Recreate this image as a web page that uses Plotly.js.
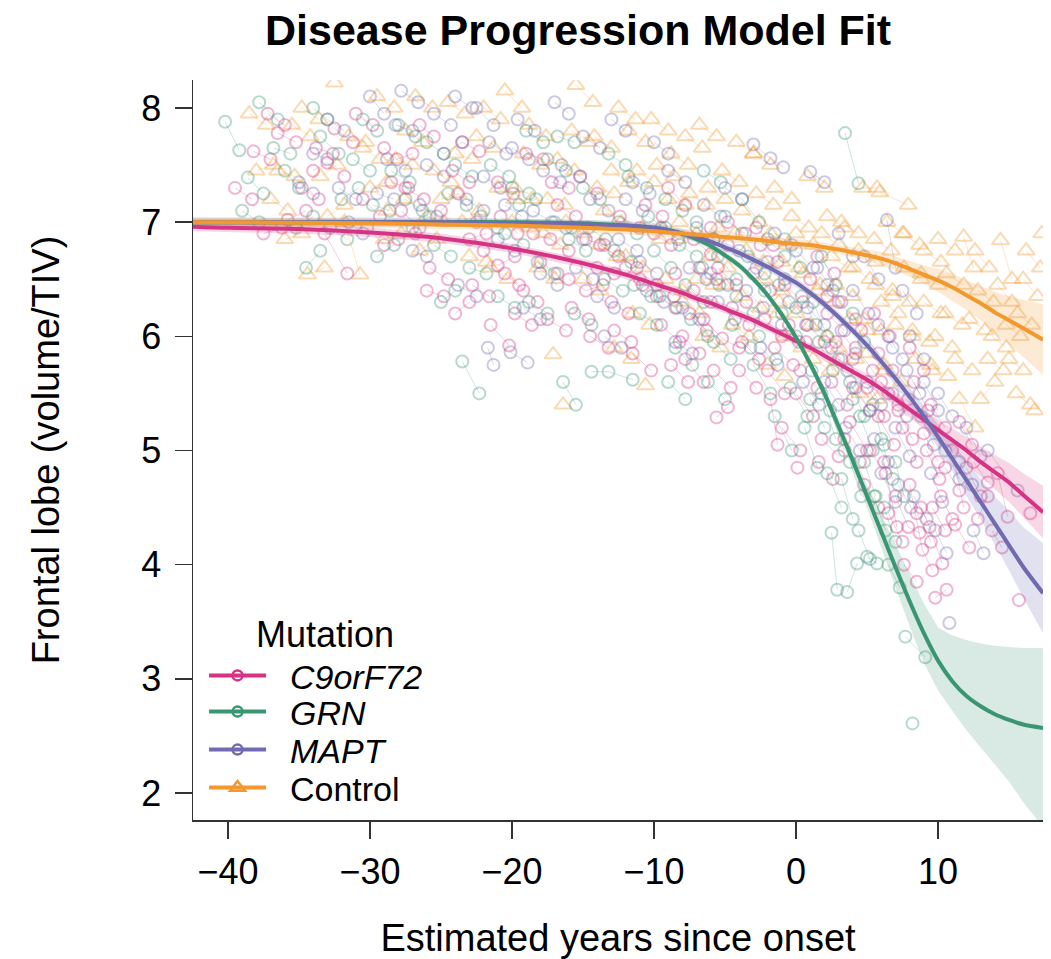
<!DOCTYPE html>
<html>
<head>
<meta charset="utf-8">
<script src="https://cdn.plot.ly/plotly-3.0.1.min.js"></script>
<style>html,body{margin:0;padding:0;background:#fff;}#chart{width:1051px;height:959px;}</style>
</head>
<body>
<div id="chart"></div>
<script>
// ---------- DATA ----------
const groupNames = ["C9orF72", "GRN", "MAPT", "Control"];

// Observed subjects: each subject is a list of [years since onset, frontal lobe volume/TIV] visits
const c9Subjects = [
 [[-38.2,7.62],[-37.0,7.55]],[[-36.5,7.78],[-35.2,7.7]],[[-35.8,7.02],[-34.5,7.1]],[[-34.0,7.45],[-33.0,7.52],[-31.8,7.4]],
 [[-33.2,6.9],[-31.6,6.55]],[[-32.5,7.82],[-31.2,7.7]],[[-30.5,7.2],[-29.3,7.05]],[[-29.0,7.65],[-28.1,7.55],[-27.0,7.6]],
 [[-28.0,6.85],[-26.8,6.9]],[[-27.5,7.3],[-26.2,7.2]],[[-25.8,6.6],[-24.5,6.5]],[[-25.0,7.1],[-23.8,7.25],[-22.5,7.0]],
 [[-24.0,6.2],[-23.0,6.3]],[[-23.5,7.7],[-22.3,7.62]],[[-22.0,6.75],[-21.0,6.62],[-19.8,6.7]],[[-21.5,6.1],[-20.2,5.92]],
 [[-21.0,7.35],[-19.9,7.25]],[[-19.5,6.45],[-18.2,6.3]],[[-19.0,7.6],[-17.8,7.55]],[[-18.5,6.9],[-17.3,6.85],[-16.0,6.75]],
 [[-17.5,6.15],[-16.2,6.05]],[[-16.8,7.15],[-15.5,7.05]],[[-16.0,6.5],[-14.8,6.4],[-13.6,6.45]],[[-15.2,7.4],[-14.0,7.25]],
 [[-14.5,6.0],[-13.2,5.9]],[[-13.8,6.8],[-12.5,6.7],[-11.2,6.6]],[[-13.0,6.3],[-11.8,6.2]],[[-12.4,7.05],[-11.0,6.95]],
 [[-11.5,5.85],[-10.2,5.7]],[[-11.0,6.5],[-9.8,6.35],[-8.5,6.25]],[[-10.0,6.9],[-8.8,6.8]],[[-9.5,6.1],[-8.2,5.95]],
 [[-9.0,7.3],[-7.8,7.15]],[[-8.5,6.55],[-7.2,6.4],[-6.0,6.3]],[[-7.8,5.8],[-6.5,5.6]],[[-7.2,6.85],[-6.0,6.72]],
 [[-6.5,6.15],[-5.2,5.98],[-4.0,5.9]],[[-5.6,5.29],[-4.8,5.38]],[[-5.5,6.6],[-4.2,6.45]],[[-4.8,7.0],[-3.6,6.9]],
 [[-4.0,5.7],[-2.8,5.55]],[[-3.5,6.3],[-2.2,6.15],[-1.0,6.0]],[[-2.5,6.8],[-1.3,6.65]],[[-1.8,5.45],[-1.3,5.05]],
 [[-1.5,5.9],[-0.2,5.75]],[[-0.8,6.45],[0.5,6.3]],[[0.1,4.85]],[[0.0,5.5],[1.2,5.3]],[[0.8,6.1],[2.0,5.95],[3.2,5.8]],
 [[1.5,6.7],[2.7,6.55]],[[1.8,5.1],[3.0,4.95]],[[2.5,5.6],[3.6,5.4]],[[3.0,6.3],[4.2,6.15]],[[3.8,5.25],[5.0,5.0]],
 [[4.2,5.9],[5.4,5.7],[6.5,5.5]],[[4.8,4.7],[5.8,4.5]],[[5.5,6.2],[6.6,6.0]],[[5.8,5.3],[6.9,5.05]],[[6.2,4.9],[7.1,4.33]],
 [[6.8,5.7],[7.9,5.45]],[[7.0,4.6],[7.9,4.33],[8.7,4.28]],[[7.5,5.2],[8.5,4.9]],[[8.0,4.7],[8.9,4.13],[9.6,3.95]],
 [[8.3,5.6],[9.3,5.35]],[[8.8,4.5],[9.4,4.33],[10.3,4.01]],[[9.2,5.0],[10.1,4.75]],[[9.8,3.71],[10.6,3.78]],
 [[9.5,5.4],[10.5,5.2]],[[10.2,4.6],[11.0,4.4]],[[11.0,5.0],[11.8,4.5]],[[11.5,5.25],[12.4,5.05]],[[12.5,4.9],[13.5,4.72]],
 [[12.8,4.4],[13.5,4.6]],[[14.2,4.8],[14.9,4.42]],[[15.7,3.69]],[[16.5,4.45]],[[-20.5,6.55],[-19.2,6.4]],
 [[-14.0,6.6],[-12.8,6.55]],[[-8.0,6.0],[-6.8,5.85]],[[-3.0,6.55],[-1.8,6.4]],[[-6.0,6.95],[-4.8,6.8]],[[2.2,6.2],[3.4,6.05]],
 [[-1.0,5.2],[0.3,5.0]],[[5.0,5.55],[6.2,5.3]],[[-37.5,6.9],[-36.2,6.95]],[[-26.5,7.85],[-25.5,7.75]],[[-23.0,6.85],[-21.8,6.9]],
 [[-39.5,7.3],[-38.3,7.2]],[[-37.2,7.95],[-36.0,7.85]],[[-34.8,7.3],[-33.6,7.2]],[[-31.0,7.95],[-29.8,7.85]],[[-30.2,6.95],[-29.0,6.8]],
 [[-27.8,7.1],[-26.5,6.95]],[[-26.0,6.4],[-24.8,6.35]],[[-24.2,7.45],[-23.0,7.35]],[[-22.8,6.45],[-21.6,6.35]],[[-20.8,7.05],[-19.6,6.9]],
 [[-18.0,6.65],[-16.8,6.55]],[[-17.2,7.35],[-16.0,7.3]],[[-15.8,6.25],[-14.6,6.15]],[[-14.8,6.85],[-13.5,6.8]],[[-12.8,6.05],[-11.6,5.95]],
 [[-12.0,6.6],[-10.8,6.45]],[[-10.6,7.15],[-9.4,7.05]],[[-9.8,6.45],[-8.6,6.35]],[[-8.8,5.75],[-7.6,5.6]],[[-7.5,6.2],[-6.3,6.05]],
 [[-6.8,6.6],[-5.6,6.5]],[[-5.8,5.7],[-4.6,5.55]],[[-4.5,6.25],[-3.3,6.1]],[[-3.8,5.95],[-2.6,5.8]],[[-2.8,6.95],[-1.6,6.8]],
 [[-2.0,5.7],[-0.8,5.5]],[[-0.5,6.1],[0.7,5.95]],[[0.3,5.7],[1.5,5.55]],[[1.0,6.5],[2.2,6.35]],[[1.6,4.9],[2.6,4.75]],
 [[2.8,5.95],[4.0,5.8]],[[3.4,5.1],[4.5,4.9]],[[4.0,5.55],[5.2,5.35]],[[4.6,6.05],[5.8,5.85]],[[5.2,5.0],[6.3,4.8]],
 [[6.0,5.6],[7.2,5.4]],[[6.5,4.45],[7.5,4.2]],[[7.2,5.35],[8.2,5.1]],[[7.6,4.0],[8.5,3.85]],[[8.0,5.9],[9.0,5.7]],
 [[8.5,4.45],[9.5,4.2]],[[9.0,5.15],[10.0,4.9]],[[9.6,4.5],[10.5,4.3]],[[10.5,4.85],[11.5,4.65]],[[11.2,4.35],[12.2,4.15]],
 [[12.0,4.85],[13.0,4.6]],[[13.8,4.3],[14.5,4.15]],[[-33.8,7.65],[-32.6,7.6]],[[-28.5,7.35],[-27.3,7.3]],[[-19.8,6.2],[-18.6,6.1]]
];
const grnSubjects = [
 [[-40.2,7.88],[-39.2,7.63]],[[-38.6,7.39],[-37.5,7.25]],[[-37.8,8.05],[-36.5,7.9]],[[-36.0,7.45],[-35.0,7.3]],
 [[-35.2,6.95],[-34.0,7.05]],[[-33.5,7.75],[-32.2,7.6]],[[-32.0,7.2],[-30.8,7.3]],[[-30.5,7.9],[-29.5,7.8]],
 [[-29.5,6.7],[-28.3,6.8]],[[-28.5,7.45],[-27.2,7.35]],[[-27.0,6.95],[-25.8,7.05]],[[-26.0,7.7],[-24.8,7.6]],
 [[-24.5,7.25],[-23.2,7.15]],[[-23.5,5.78],[-22.3,5.5]],[[-23.0,6.6],[-21.8,6.55]],[[-21.5,7.5],[-20.2,7.4]],
 [[-20.5,6.9],[-19.2,6.8]],[[-19.5,7.15],[-18.3,7.2]],[[-18.8,6.3],[-17.5,6.2]],[[-17.5,7.55],[-16.2,7.45]],
 [[-16.4,5.6],[-15.5,5.4]],[[-16.0,6.85],[-14.8,6.75]],[[-14.4,5.69],[-13.2,5.69],[-11.5,5.62]],[[-15.0,7.3],[-13.8,7.2]],
 [[-13.5,6.5],[-12.2,6.4]],[[-12.5,7.0],[-11.2,6.9]],[[-11.8,7.4],[-10.5,7.3]],[[-11.0,6.2],[-9.8,6.1]],
 [[-10.0,6.75],[-8.8,6.6]],[[-9.2,7.2],[-8.0,7.1]],[[-8.5,5.9],[-7.3,5.75]],[[-7.8,6.45],[-6.5,6.3]],
 [[-7.0,7.0],[-5.8,6.85]],[[-6.2,5.6],[-5.0,5.45]],[[-5.5,6.7],[-4.2,6.5]],[[-4.5,6.1],[-3.2,5.9]],
 [[-3.8,7.2],[-2.6,7.0]],[[-3.0,5.75],[-1.8,5.5]],[[-2.2,6.4],[-1.0,6.2]],[[-1.5,5.3],[-0.3,5.0]],
 [[-0.8,6.85],[0.3,6.6]],[[0.0,6.0],[1.1,5.7]],[[0.6,5.2],[1.5,4.85]],[[1.2,6.3],[2.2,6.0]],[[1.8,5.5],[2.8,5.1]],
 [[2.5,4.28],[2.9,3.78]],[[3.6,3.76],[4.3,4.01]],[[2.2,4.8],[3.2,4.5]],[[3.45,7.78],[4.4,7.34]],[[3.0,5.8],[4.0,5.45]],
 [[3.8,4.9],[4.6,4.6]],[[4.5,5.3],[5.4,5.0]],[[5.0,4.07],[5.7,4.01]],[[5.5,4.6],[6.3,4.3]],[[6.0,5.1],[6.8,4.75]],
 [[7.7,3.37],[9.1,3.19]],[[8.2,2.61]],[[6.5,4.0],[7.3,3.8]],[[-19.0,7.8],[-17.8,7.7]],[[-25.0,6.3],[-24.0,6.4]],
 [[-34.5,6.6],[-33.5,6.75]],[[1.8,6.7],[2.8,6.45]],[[-6.5,7.45],[-5.3,7.35]],[[-2.0,6.85],[-0.8,6.7]],[[4.0,6.2],[4.8,5.95]],
 [[-39.0,7.1],[-37.8,7.0]],[[-36.8,7.65],[-35.6,7.6]],[[-34.0,8.0],[-33.0,7.9]],[[-32.8,6.95],[-31.6,6.85]],[[-31.2,7.55],[-30.0,7.45]],
 [[-28.0,7.85],[-26.8,7.75]],[[-27.5,7.2],[-26.3,7.1]],[[-25.5,6.8],[-24.3,6.7]],[[-24.0,7.5],[-22.8,7.4]],[[-22.2,7.05],[-21.0,6.95]],
 [[-21.0,6.35],[-19.8,6.25]],[[-20.0,7.3],[-18.8,7.25]],[[-18.2,6.65],[-17.0,6.55]],[[-17.0,7.0],[-15.8,6.95]],[[-15.6,6.2],[-14.4,6.1]],
 [[-14.6,6.95],[-13.4,6.85]],[[-13.2,7.6],[-12.0,7.5]],[[-12.8,6.75],[-11.6,6.65]],[[-11.4,6.45],[-10.2,6.35]],[[-10.4,7.05],[-9.2,6.95]],
 [[-9.6,6.35],[-8.4,6.25]],[[-9.0,5.6],[-7.8,5.45]],[[-8.2,6.8],[-7.0,6.7]],[[-7.4,6.15],[-6.2,6.0]],[[-6.6,6.6],[-5.4,6.45]],
 [[-5.8,5.95],[-4.6,5.8]],[[-5.0,7.05],[-3.8,6.9]],[[-4.2,6.35],[-3.0,6.2]],[[-3.4,6.7],[-2.2,6.55]],[[-2.6,6.0],[-1.4,5.8]],
 [[-1.2,6.45],[0.0,6.25]],[[-0.4,5.55],[0.8,5.3]],[[0.4,6.35],[1.4,6.1]],[[1.0,5.45],[2.0,5.2]],[[1.6,5.95],[2.6,5.7]],
 [[2.4,5.35],[3.4,5.0]],[[3.2,4.75],[4.0,4.4]],[[3.8,5.6],[4.8,5.3]],[[4.4,4.3],[5.2,4.05]],[[4.8,4.9],[5.6,4.6]],
 [[5.4,5.4],[6.2,5.05]],[[6.2,4.5],[7.0,4.2]],[[7.0,4.9],[7.6,4.6]],[[-16.8,7.75],[-15.6,7.7]],[[-29.8,7.15],[-28.6,7.1]]
];
const maptSubjects = [
 [[-35.0,7.35],[-34.0,7.25]],[[-33.0,7.9],[-31.8,7.8]],[[-31.5,7.0],[-30.5,6.9]],[[-30.0,8.1],[-29.0,7.95]],
 [[-28.8,7.55],[-27.5,7.45]],[[-27.8,8.15],[-26.6,8.05]],[[-26.5,7.15],[-25.3,7.05]],[[-25.5,7.95],[-24.3,7.85]],
 [[-24.8,7.6],[-23.5,7.7]],[[-23.8,6.45],[-22.5,6.35]],[[-22.5,8.0],[-21.3,7.85]],[[-22.0,7.4],[-20.8,7.3]],
 [[-21.0,6.85],[-19.8,6.75]],[[-20.0,7.65],[-18.8,7.55]],[[-19.2,6.25],[-18.0,6.15]],[[-18.5,7.1],[-17.2,7.0]],
 [[-21.7,5.9],[-21.3,5.75]],[[-20.1,5.86],[-18.9,5.77]],[[-16.5,7.5],[-15.2,7.4]],[[-15.5,6.6],[-14.3,6.5]],
 [[-14.5,7.2],[-13.2,7.1]],[[-13.5,6.0],[-12.3,5.9]],[[-12.5,6.85],[-11.2,6.75]],[[-11.5,7.35],[-10.3,7.25]],
 [[-10.5,6.4],[-9.3,6.3]],[[-9.5,6.95],[-8.3,6.85]],[[-8.5,5.95],[-7.3,5.85]],[[-7.5,6.6],[-6.3,6.5]],
 [[-6.5,7.15],[-5.3,7.05]],[[-5.5,6.3],[-4.3,6.15]],[[-3.0,7.68],[-1.8,7.56],[-0.9,7.48]],[[1.0,7.44],[2.0,7.35]],
 [[-4.0,6.75],[-2.8,6.6]],[[-2.5,5.9],[-1.3,5.75]],[[-1.5,6.9],[-0.3,6.8]],[[-0.5,6.3],[0.7,6.1]],[[0.5,5.6],[1.6,5.4]],
 [[1.5,6.6],[2.6,6.4]],[[2.5,5.9],[3.6,5.7]],[[3.5,5.2],[4.5,5.0]],[[4.0,6.4],[5.1,6.2]],[[5.0,5.6],[6.0,5.4]],
 [[6.4,7.02],[7.0,6.6]],[[6.0,4.8],[7.0,4.55]],[[6.5,6.0],[7.5,5.8]],[[7.0,5.2],[8.0,4.95]],[[7.8,5.7],[8.7,5.5]],
 [[8.3,4.6],[9.2,4.4]],[[8.8,5.3],[9.7,5.05]],[[9.5,4.8],[10.3,4.55]],[[10.0,5.5],[11.0,5.3]],[[10.8,3.49]],
 [[11.5,4.9],[12.4,4.7]],[[12.5,4.3],[13.2,4.1]],[[13.5,5.0],[15.6,4.65]],[[-27.0,6.75],[-26.0,6.7]],
 [[-10.0,7.7],[-9.0,7.6]],[[3.0,6.9],[4.0,6.7]],[[-13.0,7.9],[-12.0,7.8]],[[-17.0,8.05],[-16.0,7.95]],[[7.5,6.4],[8.5,6.2]],
 [[-34.0,7.6],[-33.0,7.55]],[[-32.2,7.3],[-31.0,7.2]],[[-29.5,7.25],[-28.3,7.2]],[[-28.2,7.85],[-27.0,7.8]],[[-26.0,7.5],[-24.8,7.4]],
 [[-24.0,8.1],[-22.8,8.0]],[[-23.2,7.2],[-22.0,7.1]],[[-21.6,7.7],[-20.4,7.6]],[[-20.5,7.15],[-19.3,7.05]],[[-19.6,7.9],[-18.4,7.8]],
 [[-18.0,6.55],[-16.8,6.45]],[[-17.8,7.45],[-16.6,7.35]],[[-16.2,6.95],[-15.0,6.85]],[[-15.0,7.75],[-13.8,7.65]],[[-14.0,6.35],[-12.8,6.25]],
 [[-12.0,7.2],[-10.8,7.1]],[[-11.0,6.65],[-9.8,6.55]],[[-9.0,7.45],[-7.8,7.35]],[[-8.0,6.25],[-6.8,6.15]],[[-7.0,6.95],[-5.8,6.85]],
 [[-6.0,6.55],[-4.8,6.45]],[[-5.0,7.3],[-3.8,7.2]],[[-3.5,6.4],[-2.3,6.25]],[[-2.0,6.65],[-0.8,6.5]],[[-1.0,6.1],[0.2,5.95]],
 [[0.0,6.75],[1.2,6.6]],[[0.8,6.25],[2.0,6.1]],[[2.0,5.6],[3.0,5.4]],[[2.2,6.45],[3.2,6.3]],[[3.2,6.05],[4.2,5.85]],
 [[4.2,5.55],[5.2,5.35]],[[4.8,6.7],[5.8,6.5]],[[5.5,5.1],[6.5,4.9]],[[5.8,6.1],[6.8,5.9]],[[6.8,5.5],[7.8,5.3]],
 [[7.2,4.7],[8.1,4.5]],[[8.0,6.0],[9.0,5.8]],[[9.0,5.6],[10.0,5.35]],[[9.8,4.3],[10.6,4.1]],[[10.5,5.0],[11.5,4.75]],[[12.0,5.2],[13.0,4.95]]
];
const controlSubjects = [
 [[-37.0,7.2],[-35.8,7.1]],[[-36.0,6.85],[-34.8,6.9]],[[-35.5,7.85],[-34.2,7.75]],[[-34.4,6.54],[-33.2,6.6]],
 [[-33.5,7.4],[-32.3,7.5]],[[-32.5,8.22]],[[-31.8,7.0],[-30.7,6.54]],[[-30.5,7.65],[-29.3,7.55]],[[-29.5,8.1],[-28.3,8.0]],
 [[-28.8,7.1],[-27.6,7.2]],[[-27.5,7.8],[-26.3,7.7]],[[-26.5,6.75],[-25.3,6.85]],[[-25.5,7.45],[-24.3,7.35]],
 [[-24.5,8.05],[-23.3,7.95]],[[-23.5,7.0],[-22.3,7.1]],[[-22.5,7.75],[-21.3,7.65]],[[-21.5,6.6],[-20.3,6.5]],
 [[-20.5,8.15],[-19.3,8.0]],[[-19.8,7.3],[-18.6,7.2]],[[-18.8,7.85],[-17.6,7.75]],[[-17.8,6.9],[-16.6,6.8]],
 [[-17.1,5.84]],[[-16.4,5.4]],[[-16.8,7.55],[-15.6,7.45]],[[-15.5,8.2],[-14.3,8.05]],[[-15.0,6.5],[-13.8,6.4]],
 [[-14.2,7.75],[-13.0,7.65]],[[-13.5,7.1],[-12.3,7.0]],[[-12.5,8.0],[-11.3,7.9]],[[-12.0,6.7],[-10.8,6.6]],
 [[-11.2,7.45],[-10.0,7.35]],[[-10.6,5.57]],[[-10.2,7.9],[-9.0,7.8]],[[-9.5,6.95],[-8.3,6.85]],[[-8.8,7.6],[-7.6,7.5]],
 [[-8.0,6.3],[-6.8,6.2]],[[-7.5,7.25],[-6.3,7.15]],[[-6.8,7.85],[-5.6,7.75]],[[-6.0,6.7],[-4.8,6.6]],[[-5.2,7.45],[-4.0,7.35]],
 [[-4.5,6.1],[-3.3,6.0]],[[-3.8,7.1],[-2.6,7.0]],[[-3.0,7.6],[-1.8,7.5]],[[-2.2,6.5],[-1.0,6.4]],[[-1.5,7.3],[-0.3,7.2]],
 [[-0.8,6.0],[0.4,5.9]],[[0.0,6.9],[1.2,6.8]],[[0.8,7.4],[2.0,7.3]],[[1.5,6.4],[2.7,6.3]],[[2.2,7.05],[3.4,6.95]],
 [[3.0,5.9],[4.2,5.8]],[[4.7,7.3],[5.7,7.3]],[[4.0,6.6],[5.2,6.5]],[[4.8,6.15],[6.0,6.05]],[[5.5,6.85],[6.7,6.75]],
 [[6.2,5.7],[7.4,5.6]],[[6.8,6.4],[8.0,6.3]],[[5.9,7.26],[7.9,7.15]],[[7.5,6.9],[8.7,6.8]],[[8.2,6.05],[9.4,5.95]],
 [[8.8,6.55],[10.0,6.45]],[[9.5,5.75],[10.7,5.65]],[[10.0,6.85],[11.2,6.75]],[[10.5,6.2],[11.7,6.1]],[[11.8,6.87],[12.5,6.6]],
 [[11.5,5.45],[12.6,5.2]],[[12.8,6.4],[13.9,6.3]],[[13.5,5.8],[14.6,5.7]],[[14.4,6.84],[15.2,6.5]],[[14.8,6.1],[15.8,6.0]],
 [[15.5,5.5],[16.5,5.4]],[[16.0,6.5],[17.0,6.35]],[[16.8,5.35]],[[17.3,6.9]],[[13.0,5.45],[14.0,5.6]],
 [[-20.0,7.0],[-18.8,6.95]],[[-14.0,7.3],[-12.8,7.25]],[[-9.0,7.2],[-7.8,7.15]],[[-5.5,6.95],[-4.3,6.9]],
 [[-1.0,6.65],[0.2,6.6]],[[2.5,6.7],[3.7,6.6]],[[6.0,6.3],[7.2,6.2]],[[9.0,6.3],[10.2,6.2]],[[-25.0,7.2],[-23.8,7.25]],
 [[-30.0,7.3],[-28.8,7.35]],[[-38.0,7.45],[-36.8,7.5]],[[-11.5,6.2],[-10.3,6.1]],[[-17.5,7.2],[-16.3,7.15]],
 [[-7.0,6.5],[-5.8,6.45]],[[1.0,6.1],[2.2,6.0]],[[4.5,5.5],[5.7,5.45]],[[-2.5,6.25],[-1.3,6.2]],
 [[-38.5,7.95],[-37.3,7.85]],[[-36.5,7.45],[-35.3,7.4]],[[-34.8,8.0],[-33.6,7.9]],[[-33.0,7.05],[-31.8,7.15]],[[-31.5,7.75],[-30.3,7.7]],
 [[-29.0,6.85],[-27.8,6.9]],[[-28.2,7.55],[-27.0,7.5]],[[-26.8,8.1],[-25.6,8.0]],[[-26.0,7.05],[-24.8,7.0]],[[-24.0,7.6],[-22.8,7.55]],
 [[-23.0,6.7],[-21.8,6.65]],[[-22.0,8.0],[-20.8,7.9]],[[-21.0,7.3],[-19.8,7.2]],[[-19.2,7.6],[-18.0,7.5]],[[-18.2,6.6],[-17.0,6.5]],
 [[-16.2,7.0],[-15.0,6.9]],[[-15.8,7.8],[-14.6,7.7]],[[-13.8,6.8],[-12.6,6.7]],[[-13.0,7.45],[-11.8,7.35]],[[-11.8,7.8],[-10.6,7.7]],
 [[-10.8,6.95],[-9.6,6.85]],[[-9.8,7.5],[-8.6,7.4]],[[-9.2,6.5],[-8.0,6.4]],[[-8.2,7.0],[-7.0,6.9]],[[-7.8,7.75],[-6.6,7.65]],
 [[-6.5,6.0],[-5.3,5.9]],[[-6.2,7.3],[-5.0,7.2]],[[-5.0,6.45],[-3.8,6.35]],[[-4.2,7.7],[-3.0,7.6]],[[-3.5,6.75],[-2.3,6.65]],
 [[-2.8,7.25],[-1.6,7.15]],[[-1.8,6.9],[-0.6,6.8]],[[-1.2,6.3],[0.0,6.2]],[[-0.3,7.05],[0.9,6.95]],[[0.5,6.55],[1.7,6.45]],
 [[1.2,5.8],[2.4,5.7]],[[1.8,6.9],[3.0,6.8]],[[2.8,6.45],[4.0,6.35]],[[3.2,7.0],[4.4,6.9]],[[3.8,6.15],[5.0,6.05]],
 [[4.4,6.75],[5.6,6.65]],[[5.0,5.85],[6.2,5.75]],[[5.6,6.45],[6.8,6.35]],[[6.4,7.0],[7.6,6.9]],[[7.0,6.1],[8.2,6.0]],
 [[7.6,6.6],[8.8,6.5]],[[8.4,5.8],[9.6,5.7]],[[9.0,6.75],[10.2,6.65]],[[9.8,6.0],[11.0,5.9]],[[10.6,6.55],[11.8,6.45]],
 [[11.2,5.8],[12.4,5.7]],[[12.2,6.15],[13.3,6.05]],[[12.6,6.75],[13.6,6.6]],[[13.8,6.0],[14.8,5.9]],[[14.2,6.45],[15.2,6.3]],
 [[15.0,5.8],[16.0,5.7]],[[16.2,6.75],[17.2,6.6]],[[15.6,6.2],[16.6,6.1]],[[-12.8,5.9],[-11.6,5.8]],[[-2.0,5.75],[-0.8,5.65]]
];

// Fitted curves and confidence bands, read at these years
const fitYears = [-42.5,-40,-35,-30,-25,-20,-15,-12,-10,-9,-8,-7,-6,-5,-4,-3,-2,-1,0,1,2,3,4,5,6,7,8,9,10,11,12,13,14,15,16,17.4];
const c9Fit  = [6.96,6.95,6.94,6.91,6.86,6.77,6.64,6.54,6.46,6.42,6.38,6.33,6.29,6.24,6.19,6.14,6.08,6.02,5.96,5.90,5.83,5.76,5.69,5.62,5.54,5.45,5.36,5.27,5.18,5.09,5.00,4.90,4.81,4.72,4.61,4.46];
const c9Hi   = [7.00,6.99,6.98,6.95,6.90,6.81,6.68,6.58,6.50,6.46,6.42,6.37,6.33,6.28,6.23,6.18,6.12,6.06,6.00,5.94,5.875,5.805,5.74,5.67,5.595,5.51,5.43,5.35,5.27,5.19,5.12,5.03,4.96,4.89,4.80,4.69];
const c9Lo   = [6.92,6.91,6.90,6.87,6.82,6.73,6.60,6.50,6.42,6.38,6.34,6.29,6.25,6.20,6.15,6.10,6.04,5.98,5.92,5.86,5.785,5.715,5.64,5.57,5.485,5.39,5.29,5.19,5.09,4.99,4.88,4.77,4.66,4.55,4.42,4.23];
const grnFit = [7.00,7.00,7.00,7.00,7.00,7.00,6.99,6.97,6.95,6.93,6.90,6.85,6.79,6.71,6.62,6.50,6.36,6.19,5.99,5.76,5.50,5.21,4.91,4.60,4.29,3.98,3.68,3.40,3.16,2.98,2.85,2.76,2.69,2.64,2.60,2.57];
const grnHi  = [7.03,7.03,7.03,7.03,7.03,7.03,7.02,7.00,6.98,6.96,6.93,6.88,6.82,6.74,6.65,6.53,6.39,6.22,6.02,5.80,5.55,5.27,4.99,4.70,4.44,4.18,3.92,3.66,3.45,3.38,3.34,3.31,3.29,3.28,3.27,3.27];
const grnLo  = [6.97,6.97,6.97,6.97,6.97,6.97,6.96,6.94,6.92,6.90,6.87,6.82,6.76,6.68,6.59,6.47,6.33,6.16,5.96,5.72,5.45,5.15,4.83,4.50,4.16,3.80,3.46,3.14,2.90,2.72,2.55,2.40,2.25,2.10,1.92,1.70];
const maptFit= [7.00,7.00,7.00,7.00,7.00,6.99,6.98,6.97,6.95,6.93,6.90,6.87,6.83,6.78,6.73,6.67,6.61,6.54,6.47,6.38,6.28,6.17,6.05,5.92,5.78,5.63,5.47,5.30,5.12,4.93,4.74,4.55,4.36,4.17,3.98,3.75];
const maptHi = [7.04,7.04,7.04,7.04,7.04,7.03,7.02,7.01,6.99,6.97,6.94,6.91,6.87,6.82,6.77,6.71,6.65,6.58,6.51,6.42,6.32,6.21,6.09,5.97,5.83,5.69,5.55,5.39,5.23,5.06,4.91,4.75,4.60,4.47,4.33,4.19];
const maptLo = [6.96,6.96,6.96,6.96,6.96,6.95,6.94,6.93,6.91,6.89,6.86,6.83,6.79,6.74,6.69,6.63,6.57,6.50,6.43,6.34,6.24,6.13,6.01,5.875,5.73,5.57,5.40,5.22,5.02,4.82,4.60,4.40,4.17,3.95,3.71,3.40];
const ctrlFit= [7.00,7.00,6.995,6.99,6.98,6.97,6.95,6.935,6.92,6.91,6.90,6.89,6.88,6.87,6.86,6.85,6.835,6.82,6.81,6.80,6.78,6.76,6.735,6.71,6.68,6.64,6.59,6.54,6.49,6.43,6.36,6.29,6.21,6.14,6.07,5.97];
const ctrlHi = [7.04,7.04,7.035,7.03,7.02,7.01,6.99,6.975,6.96,6.95,6.94,6.93,6.92,6.91,6.90,6.89,6.875,6.86,6.85,6.84,6.82,6.80,6.78,6.76,6.74,6.70,6.66,6.62,6.59,6.55,6.49,6.44,6.39,6.35,6.32,6.28];
const ctrlLo = [6.96,6.96,6.955,6.95,6.94,6.93,6.91,6.895,6.88,6.87,6.86,6.85,6.84,6.83,6.82,6.81,6.795,6.78,6.77,6.76,6.74,6.72,6.69,6.66,6.62,6.58,6.52,6.46,6.39,6.31,6.23,6.14,6.03,5.93,5.82,5.66];

const xTicks = [-40,-30,-20,-10,0,10];
const yTicks = [2,3,4,5,6,7,8];

// ---------- STYLE ----------
const rgb = {C9orF72:[214,51,132], GRN:[58,150,114], MAPT:[112,106,176], Control:[242,152,45]};
const col = (n,a) => `rgba(${rgb[n][0]},${rgb[n][1]},${rgb[n][2]},${a})`;
const FONT = "Liberation Sans, Arial, Helvetica, sans-serif";
const NB = "\u00a0";

function flatten(subjects){
  const xs=[], ys=[];
  subjects.forEach((s,i)=>{ if(i>0){xs.push(null);ys.push(null);} s.forEach(p=>{xs.push(p[0]);ys.push(p[1]);}); });
  return {xs, ys};
}

const groups = [
  {name:"C9orF72", subj:c9Subjects, fit:c9Fit, hi:c9Hi, lo:c9Lo, sym:"circle-open", size:12, label:NB+NB+"<i>C9orF72</i>", legend:"legend"},
  {name:"GRN", subj:grnSubjects, fit:grnFit, hi:grnHi, lo:grnLo, sym:"circle-open", size:12, label:NB+NB+"<i>GRN</i>", legend:"legend2"},
  {name:"MAPT", subj:maptSubjects, fit:maptFit, hi:maptHi, lo:maptLo, sym:"circle-open", size:12, label:NB+NB+"<i>MAPT</i>", legend:"legend3"},
  {name:"Control", subj:controlSubjects, fit:ctrlFit, hi:ctrlHi, lo:ctrlLo, sym:"triangle-up-open", size:15, label:NB+NB+"Control", legend:"legend4"}
];

const traces = [];
[3,0,1,2].forEach(i=>{
  const g = groups[i];
  const f = flatten(g.subj);
  traces.push({
    x:f.xs, y:f.ys, type:"scatter", mode:"lines+markers", connectgaps:false,
    showlegend:false, hoverinfo:"skip",
    line:{color:col(g.name,0.25), width:1},
    marker:{symbol:g.sym, size:g.size, color:col(g.name,0.36), line:{width:2, color:col(g.name,0.36)}}
  });
});
groups.forEach(g=>{
  traces.push({
    x: fitYears.concat(fitYears.slice().reverse()),
    y: g.hi.concat(g.lo.slice().reverse()),
    type:"scatter", mode:"lines", fill:"toself", line:{width:0, color:col(g.name,0)},
    fillcolor:col(g.name,0.2), showlegend:false, hoverinfo:"skip"
  });
});
[0,1,2,3].forEach(i=>{
  const g = groups[i];
  traces.push({x:fitYears, y:g.fit, type:"scatter", mode:"lines", line:{color:col(g.name,1), width:4, shape:"spline", smoothing:0.8}, showlegend:false, hoverinfo:"skip"});
});
groups.forEach(g=>{
  traces.push({x:[null], y:[null], type:"scatter", mode:"lines+markers", name:g.label, showlegend:true, legend:g.legend,
    line:{color:col(g.name,1), width:4},
    marker:{symbol:g.sym, size:g.sym==="circle-open"?10:13, color:col(g.name,1), line:{width:2.5, color:col(g.name,1)}}});
});

const legFont = {family:FONT, size:34, color:"#000"};
const legBase = {x:0.013, xanchor:"left", bgcolor:"rgba(0,0,0,0)", font:legFont, itemwidth:57};
const toPaperY = px => (820 - px) / 740;

const layout = {
  width:1051, height:959,
  paper_bgcolor:"#fff", plot_bgcolor:"#fff",
  margin:{l:193, r:8, t:80, b:139},
  font:{family:FONT, color:"#000"},
  title:{text:"<b>Disease Progression Model Fit</b>", x:0.55, xanchor:"center", y:0.969, yanchor:"middle", font:{family:FONT, size:43, color:"#000"}},
  xaxis:{range:[-42.46,17.39], tickvals:xTicks, ticks:"outside", ticklen:17, tickwidth:1.5, tickcolor:"#333",
    showline:true, linecolor:"#333", linewidth:1.5, showgrid:false, zeroline:false, ticklabelstandoff:2,
    tickfont:{family:FONT, size:36, color:"#000"},
    title:{text:"Estimated years since onset", font:{family:FONT, size:38, color:"#000"}, standoff:34}},
  yaxis:{range:[1.764,8.245], tickvals:yTicks, ticks:"outside", ticklen:17, tickwidth:1.5, tickcolor:"#333",
    showline:true, linecolor:"#333", linewidth:1.5, showgrid:false, zeroline:false, ticklabelstandoff:6,
    tickfont:{family:FONT, size:36, color:"#000"},
    title:{text:"Frontal lobe (volume/TIV)", font:{family:FONT, size:38, color:"#000"}, standoff:70}},
  legend:Object.assign({}, legBase, {y:toPaperY(600), yanchor:"top",
    title:{text:NB+NB+NB+NB+NB+"Mutation", font:{family:FONT, size:36, color:"#000"}, side:"top"}}),
  legend2:Object.assign({}, legBase, {y:toPaperY(712), yanchor:"middle"}),
  legend3:Object.assign({}, legBase, {y:toPaperY(750), yanchor:"middle"}),
  legend4:Object.assign({}, legBase, {y:toPaperY(788), yanchor:"middle"}),
  showlegend:true
};

Plotly.newPlot("chart", traces, layout, {staticPlot:true, displayModeBar:false});
</script>
</body>
</html>
